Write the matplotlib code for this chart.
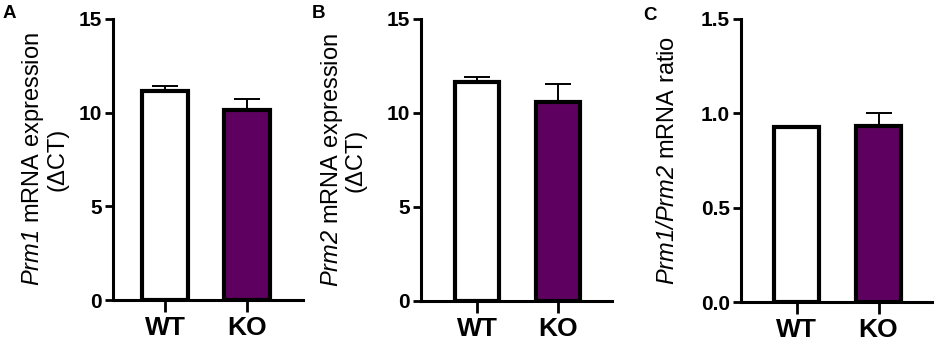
import matplotlib
matplotlib.use("Agg")
import matplotlib.pyplot as plt

plt.rcParams['font.family'] = ['Liberation Sans', 'DejaVu Sans']
plt.rcParams['mathtext.fontset'] = 'custom'
plt.rcParams['mathtext.rm'] = 'Liberation Sans:italic'
plt.rcParams['mathtext.it'] = 'Liberation Sans:italic'
plt.rcParams['mathtext.bf'] = 'Liberation Sans:bold'

categories = ["WT", "KO"]
prm1_mean = [11.15, 10.15]
prm1_err = [0.28, 0.58]
prm2_mean = [11.65, 10.6]
prm2_err = [0.26, 0.94]
ratio_mean = [0.93, 0.935]
ratio_err = [0.004, 0.065]

panel_letters = ["A", "B", "C"]
ylabels = [r"$\mathrm{Prm1}$ mRNA expression" + "\n(ΔCT)",
           r"$\mathrm{Prm2}$ mRNA expression" + "\n(ΔCT)",
           r"$\mathrm{Prm1/Prm2}$ mRNA ratio"]
yticks = [[0, 5, 10, 15], [0, 5, 10, 15], [0.0, 0.5, 1.0, 1.5]]
yticklabels = [["0", "5", "10", "15"], ["0", "5", "10", "15"], ["0.0", "0.5", "1.0", "1.5"]]
ylims = [(0, 15), (0, 15), (0, 1.5)]

colors = ["white", "#5e005f"]

W, H = 934, 346
fig = plt.figure(figsize=(W / 100, H / 100), dpi=100)

# axes pixel boxes: left, right, bottom(y of zero), top(y of max)
boxes = [(113, 303, 300, 19), (421, 612, 301, 19), (741, 932, 302, 19)]
xlims = [(-0.634, 1.683), (-0.69, 1.667), (-0.677, 1.652)]
letter_pos = [(3, 5), (312, 5), (643, 7)]
label_right = [68, 367, 679]

data = [(prm1_mean, prm1_err), (prm2_mean, prm2_err), (ratio_mean, ratio_err)]

for i in range(3):
    l, r, b, t = boxes[i]
    ax = fig.add_axes([l / W, (H - b) / H, (r - l) / W, (b - t) / H])
    means, errs = data[i]
    x = list(range(len(categories)))
    ax.bar(x, means, width=0.55, color=colors, edgecolor="black", linewidth=3.0, zorder=2)
    ax.errorbar(x, means, yerr=[[0] * len(errs), errs], fmt="none", ecolor="black",
                elinewidth=1.4, capsize=9.5, capthick=1.4, zorder=1)
    ax.set_xlim(*xlims[i])
    ax.set_ylim(*ylims[i])
    ax.set_xticks(x)
    ax.set_xticklabels(categories, fontsize=19, fontweight="bold")
    ax.set_yticks(yticks[i])
    ax.set_yticklabels(yticklabels[i], fontsize=15, fontweight="bold")
    for s in ["top", "right"]:
        ax.spines[s].set_visible(False)
    for s in ["left", "bottom"]:
        ax.spines[s].set_linewidth(2.2)
    ax.tick_params(axis="y", length=6, width=2.0, pad=2)
    ax.tick_params(axis="x", length=8.5, width=2.0, pad=3)
    ax.set_ylabel(ylabels[i], fontsize=17, linespacing=1.0)
    ax.yaxis.set_label_coords((label_right[i] - l) / (r - l), 0.5)
    lx, ly = letter_pos[i]
    fig.text(lx / W, 1 - ly / H, panel_letters[i], fontsize=13.5, fontweight="bold",
             ha="left", va="top")

fig.savefig("out.png", dpi=100)
